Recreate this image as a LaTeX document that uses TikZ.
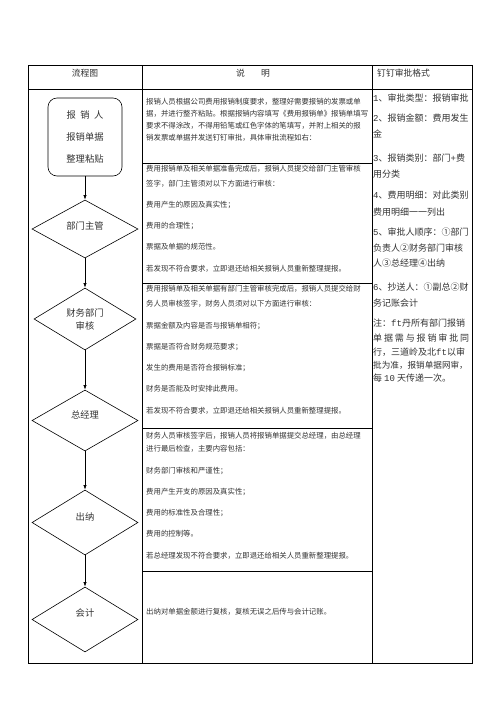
\documentclass[tikz,border=0pt]{standalone}
\usepackage{fontspec}
\setmainfont{Noto Sans CJK SC}
\newfontfamily\mono{Liberation Mono}
\usetikzlibrary{shapes.geometric,arrows.meta}
\XeTeXlinebreaklocale "zh"
\XeTeXlinebreakskip=0pt plus 3pt
\newcommand\jline[2]{\makebox[#1][s]{#2}}
\tikzset{
  tbl/.style={line width=1pt},
  hdr/.style={inner sep=0, font=\fontsize{8.8}{10}\selectfont, text=black!80},
  mtxt/.style={anchor=west, inner sep=0, font=\fontsize{7.4}{9}\selectfont, text=black!80},
  rtxt/.style={anchor=west, inner sep=0, font=\fontsize{9}{11}\selectfont, text=black!80},
  flow/.style={draw, line width=0.6pt, inner sep=0, text=black!80, font=\fontsize{9.3}{13}\selectfont},
  dia/.style={flow, diamond, minimum width=106pt, minimum height=62pt},
  arr/.style={-{Latex[length=4.5pt,width=3.2pt]}, line width=0.6pt}
}
\begin{document}
\begin{tikzpicture}[x=1pt,y=-1pt]
\useasboundingbox[fill=white] (0,0) rectangle (496,702);
% table
\draw[tbl] (28,65) rectangle (472,663);
\draw[tbl] (28,89) -- (472,89);
\draw[tbl] (142,65) -- (142,663);
\draw[tbl] (372,65) -- (372,663);
\draw[tbl] (142,163) -- (372,163);
\draw[tbl] (142,283) -- (372,283);
\draw[tbl] (142,428) -- (372,428);
\draw[tbl] (142,571) -- (372,571);
% header
\node[hdr] (h1) at (85,73) {流程图};
\node[hdr] (h2) at (253,73) {说\hspace{16pt}明};
\node[hdr, anchor=west] (h3) at (377,73) {钉钉审批格式};
% flowchart
\node[flow, rectangle, rounded corners=9pt, minimum width=74pt, minimum height=78pt, align=center,
      font=\fontsize{9.3}{22}\selectfont] (s) at (85,137)
  {报\hspace{4.5pt}销\hspace{4.5pt}人\\报销单据\\整理粘贴};
\node[dia, minimum height=58pt, text height=7pt, text depth=6pt] (d1) at (85,229) {部门主管};
\node[dia, minimum width=102pt, minimum height=62pt, align=center] (d2) at (85,319) {财务部门\\审核};
\node[dia, minimum height=61pt, text height=6pt, text depth=11pt] (d3) at (85,420.5) {总经理};
\node[dia, minimum height=65pt, text height=6pt, text depth=11pt] (d4) at (85,522.5) {出纳};
\node[dia, minimum height=65pt, text height=6pt, text depth=12pt] (d5) at (85,619.5) {会计};
\draw[arr] (s) -- (d1);
\draw[arr] (d1) -- (d2);
\draw[arr] (d2) -- (d3);
\draw[arr] (d3) -- (d4);
\draw[arr] (d4) -- (d5);
% middle column
\node[mtxt] (a1) at (146,102) {\jline{222pt}{报销人员根据公司费用报销制度要求，整理好需要报销的发票或单}};
\node[mtxt] (a2) at (146,114) {\jline{222pt}{据，并进行整齐粘贴。根据报销内容填写《费用报销单》报销单填写}};
\node[mtxt] (a3) at (146,126) {\jline{222pt}{要求不得涂改，不得用铅笔或红色字体的笔填写，并附上相关的报}};
\node[mtxt] (a4) at (146,138) {销发票或单据并发送钉钉审批，具体审批流程如右：};
\node[mtxt] (b1) at (146,169) {\jline{216pt}{费用报销单及相关单据准备完成后，报销人员提交给部门主管审核}};
\node[mtxt] (b2) at (146,184) {签字，部门主管须对以下方面进行审核：};
\node[mtxt] (b3) at (146,205) {费用产生的原因及真实性；};
\node[mtxt] (b4) at (146,226) {费用的合理性；};
\node[mtxt] (b5) at (146,247) {票据及单据的规范性。};
\node[mtxt] (b6) at (146,269) {若发现不符合要求，立即退还给相关报销人员重新整理提报。};
\node[mtxt] (c1) at (146,289) {\jline{217pt}{费用报销单及相关单据有部门主管审核完成后，报销人员提交给财}};
\node[mtxt] (c2) at (146,304) {务人员审核签字，财务人员须对以下方面进行审核：};
\node[mtxt] (c3) at (146,326) {票据金额及内容是否与报销单相符；};
\node[mtxt] (c4) at (146,347) {票据是否符合财务规范要求；};
\node[mtxt] (c5) at (146,368) {发生的费用是否符合报销标准；};
\node[mtxt] (c6) at (146,389) {财务是否能及时安排此费用。};
\node[mtxt] (c7) at (146,411) {若发现不符合要求，立即退还给相关报销人员重新整理提报。};
\node[mtxt] (e1) at (146,436) {\jline{217pt}{财务人员审核签字后，报销人员将报销单据提交总经理，由总经理}};
\node[mtxt] (e2) at (146,449) {进行最后检查，主要内容包括：};
\node[mtxt] (e3) at (146,471) {财务部门审核和严谨性；};
\node[mtxt] (e4) at (146,492) {费用产生开支的原因及真实性；};
\node[mtxt] (e5) at (146,513) {费用的标准性及合理性；};
\node[mtxt] (e6) at (146,534) {费用的控制等。};
\node[mtxt] (e7) at (146,556) {若总经理发现不符合要求，立即退还给相关人员重新整理提报。};
\node[mtxt] (f1) at (146,612) {出纳对单据金额进行复核，复核无误之后传与会计记账。};
% right column
\node[rtxt] (r1) at (373,98) {\jline{97pt}{{\mono 1}、审批类型：报销审批}};
\node[rtxt] (r2) at (373,118) {\jline{97pt}{{\mono 2}、报销金额：费用发生}};
\node[rtxt] (r3) at (373,134) {金};
\node[rtxt] (r4) at (373,158) {\jline{96pt}{{\mono 3}、报销类别：部门{\mono +}费}};
\node[rtxt] (r5) at (373,174) {用分类};
\node[rtxt] (r6) at (373,195) {\jline{97pt}{{\mono 4}、费用明细：对此类别}};
\node[rtxt] (r7) at (373,212) {费用明细一一列出};
\node[rtxt] (r8) at (373,232) {\jline{97pt}{{\mono 5}、审批人顺序：①部门}};
\node[rtxt] (r9) at (373,248) {\jline{96pt}{负责人②财务部门审核}};
\node[rtxt] (r10) at (373,263) {人③总经理④出纳};
\node[rtxt] (r11) at (373,287) {\jline{97pt}{{\mono 6}、抄送人：①副总②财}};
\node[rtxt] (r12) at (373,303) {务记账会计};
\node[rtxt] (r13) at (373,323) {\jline{97pt}{注：{\mono ft}丹所有部门报销}};
\node[rtxt] (r14) at (373,338) {\makebox[96pt][s]{单\hfill 据\hfill 需\hfill 与\hfill 报\hfill 销\hfill 审\hfill 批\hfill 同}};
\node[rtxt] (r15) at (373,352) {\jline{97pt}{行，三道岭及北{\mono ft}以审}};
\node[rtxt, font=\fontsize{8.6}{10}\selectfont] (r16) at (373,365) {批为准，报销单据网审，};
\node[rtxt] (r17) at (373,378) {每 {\mono 10} 天传递一次。};
\end{tikzpicture}
\end{document}
